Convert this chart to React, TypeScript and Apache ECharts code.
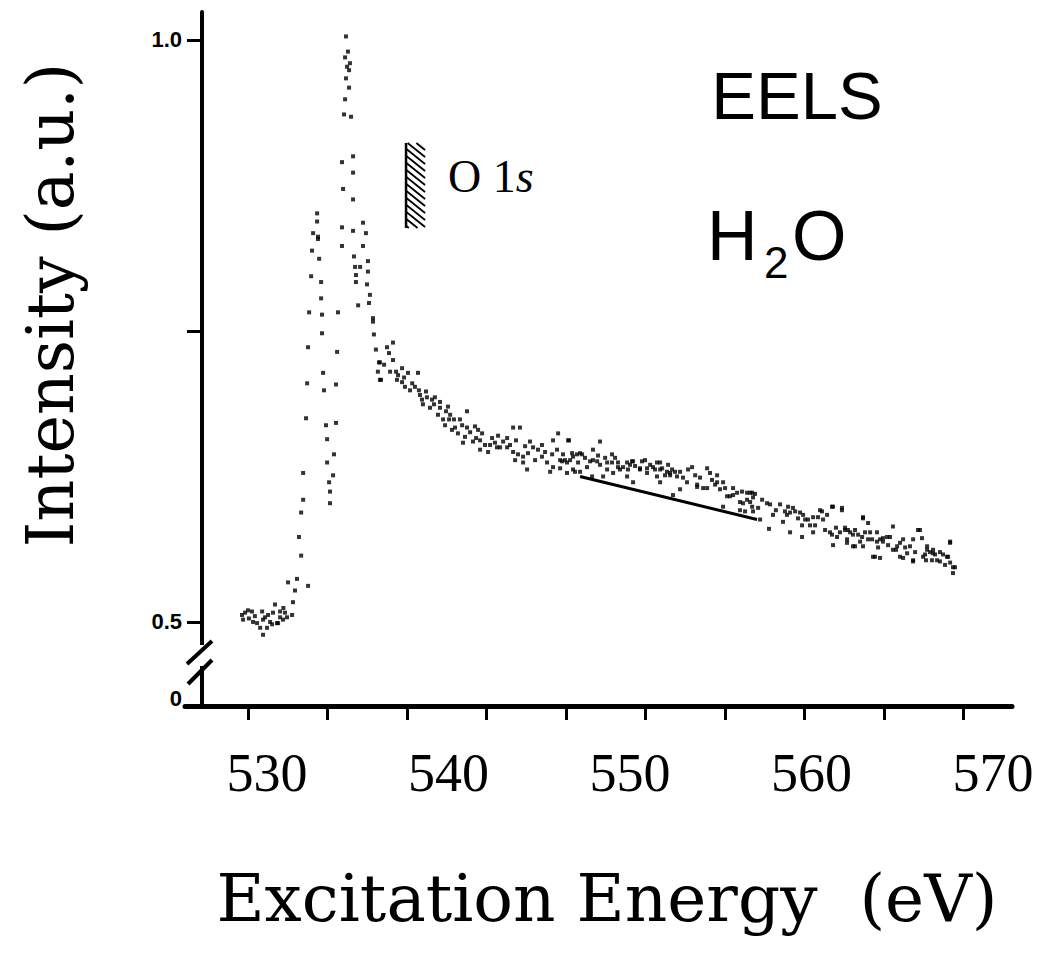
import React, { useEffect, useRef } from "react";
import * as echarts from "echarts";

// ---- data: [excitation energy (eV), intensity (a.u., broken axis)] ----
const preEdge: number[][] = [
  [528.62,0.506],[528.79,0.508],[528.68,0.502],[528.95,0.510],[529.17,0.509],[529.23,0.500],
  [529.45,0.499],[529.73,0.509],[529.78,0.502],[529.89,0.504],[530.06,0.506],[530.17,0.500],
  [530.33,0.508],[530.44,0.515],[530.55,0.499],[530.72,0.504],[530.72,0.509],[530.88,0.502],
  [530.99,0.508],[531.10,0.504],[531.38,0.506],[531.43,0.517],[529.78,0.489],[529.62,0.495],
  [530.00,0.495],[530.28,0.498],[530.61,0.499],[529.00,0.503],[529.33,0.505],[530.90,0.512]
];
const firstPeak: number[][] = [
  [531.54,0.527],[531.16,0.534],[531.65,0.537],[532.26,0.531],[531.88,0.557],[531.76,0.573],
  [531.88,0.594],[531.99,0.605],[531.99,0.628],[532.15,0.675],[532.21,0.705],[532.26,0.736],
  [532.32,0.766],[532.43,0.797],[532.48,0.819],[532.54,0.834],[532.76,0.851],[532.76,0.844],
  [532.81,0.831],[532.81,0.829],[532.87,0.812],[532.98,0.792],[532.98,0.778],[533.03,0.764],
  [533.03,0.748],[533.09,0.714],[533.14,0.699],[533.25,0.669],[533.31,0.657],[533.31,0.637],
  [533.42,0.620],[533.47,0.612],[533.47,0.602]
];
const mainPeak: number[][] = [
  [533.64,0.626],[533.69,0.644],[533.80,0.671],[533.80,0.704],[533.86,0.732],[533.91,0.766],
  [534.13,0.823],[534.13,0.839],[534.19,0.872],[534.13,0.895],[534.24,0.936],[534.30,0.949],
  [534.35,0.967],[534.30,0.985],[534.35,1.003],[534.46,0.990],[534.57,0.980],[534.41,0.977],
  [534.52,0.974],[534.52,0.959],[534.63,0.934],[534.74,0.900],[534.74,0.886],[534.74,0.863],
  [534.74,0.836],[534.79,0.814],[534.85,0.805],[534.90,0.798],[534.90,0.792],[535.02,0.772]
];
const shoulder: number[][] = [
  [535.13,0.805],[535.29,0.843],[535.29,0.823],[535.45,0.834],[535.56,0.810],[535.56,0.801],
  [535.51,0.790],[535.62,0.774],[535.67,0.781],[535.84,0.761],[535.84,0.758],[535.89,0.747],
  [536.00,0.734],[536.11,0.715],[536.17,0.723],[536.22,0.708]
];
const tailNear: number[][] = [
  [536.61,0.736],[536.94,0.740],[536.72,0.731],[536.22,0.723],[536.28,0.708],[536.94,0.725],
  [537.11,0.715],[537.44,0.718],[537.77,0.714],[538.32,0.714],[537.16,0.708],[537.44,0.706],
  [537.60,0.702],[537.88,0.699],[538.15,0.702],[538.37,0.699],[538.54,0.691],[538.81,0.693],
  [539.09,0.691],[539.25,0.693],[538.59,0.687],[538.98,0.684],[539.53,0.684],[539.97,0.685],
  [539.42,0.678],[539.70,0.674],[540.03,0.674],[540.30,0.674],[540.63,0.674],[541.02,0.681],
  [540.19,0.665],[540.52,0.662],[540.91,0.659],[541.02,0.667],[541.46,0.668],[541.63,0.665],
  [540.80,0.654],[541.35,0.655],[541.74,0.656],[542.01,0.652],[542.29,0.652],[542.56,0.654],
  [542.84,0.650],[543.23,0.658],[543.56,0.667],[543.94,0.667],[541.74,0.648],[542.18,0.646],
  [542.67,0.650],[543.23,0.650],[543.56,0.646],[543.83,0.644],[544.11,0.642],[544.38,0.645],
  [544.66,0.650],[545.15,0.652],[543.67,0.639],[544.11,0.637],[544.33,0.631],[544.77,0.639],
  [545.15,0.642],[545.43,0.637],[545.76,0.633],[546.15,0.639],[546.53,0.637],[546.86,0.642],
  [547.14,0.637],[545.76,0.656],[546.04,0.662],[546.64,0.656],[545.60,0.629],[546.15,0.632],
  [546.53,0.628],[546.97,0.629]
];
const tailMid: number[][] = [
  [546.59,0.656],[548.35,0.655],[546.42,0.639],[546.81,0.645],[547.25,0.645],[547.63,0.633],
  [547.96,0.639],[548.35,0.635],[548.74,0.631],[549.01,0.644],[549.01,0.637],[549.34,0.637],
  [549.62,0.633],[550.00,0.635],[550.17,0.638],[550.55,0.632],[550.83,0.639],[550.94,0.628],
  [551.27,0.633],[551.66,0.637],[552.04,0.629],[552.21,0.626],[552.48,0.629],[552.92,0.624],
  [553.42,0.633],[554.25,0.632],[554.41,0.628],[547.91,0.625],[548.52,0.625],[549.07,0.628],
  [549.84,0.625],[550.17,0.620],[551.49,0.625],[551.66,0.620],[553.14,0.620],[553.70,0.616],
  [554.03,0.615],[554.80,0.620],[554.96,0.614],[555.51,0.608],[555.90,0.611],[556.45,0.605],
  [556.78,0.607],[556.73,0.599],[556.06,0.596],[552.37,0.609],[552.76,0.614],[555.13,0.599],
  [546.26,0.638],[547.36,0.644],[547.96,0.648],[546.86,0.631],[547.25,0.629],[548.19,0.638],
  [548.74,0.637],[549.34,0.633],[549.84,0.637],[550.11,0.638],[550.55,0.631],[550.94,0.632],
  [551.49,0.637],[551.66,0.631],[551.93,0.626],[552.21,0.628],[552.59,0.625],[553.70,0.618],
  [554.25,0.615],[554.80,0.626],[555.13,0.620],[555.35,0.608],[555.68,0.609],[556.06,0.603],
  [556.62,0.611]
];
const tailFar: number[][] = [
  [556.45,0.611],[556.73,0.611],[556.23,0.602],[556.62,0.603],[556.34,0.595],[556.78,0.595],
  [557.06,0.598],[557.17,0.588],[557.72,0.601],[557.88,0.592],[558.27,0.601],[558.71,0.599],
  [558.43,0.586],[558.82,0.594],[559.10,0.595],[559.54,0.592],[559.48,0.583],[559.92,0.583],
  [560.58,0.595],[560.36,0.590],[561.13,0.599],[561.68,0.598],[560.75,0.579],[561.13,0.575],
  [561.57,0.577],[561.85,0.581],[562.13,0.577],[562.40,0.579],[562.84,0.590],[562.95,0.577],
  [563.61,0.577],[563.12,0.585],[564.49,0.582],[563.94,0.572],[564.33,0.573],[563.61,0.569],
  [561.19,0.566],[561.96,0.571],[562.40,0.565],[562.84,0.565],[563.34,0.571],[563.94,0.569],
  [564.72,0.565],[565.05,0.571],[565.60,0.571],[565.98,0.579],[566.09,0.572],[566.37,0.565],
  [566.70,0.562],[567.08,0.560],[567.64,0.569],[567.53,0.556],[567.80,0.547],[567.80,0.542],
  [563.39,0.556],[563.78,0.555],[565.05,0.555],[565.60,0.553],[566.26,0.558],[566.64,0.553],
  [567.08,0.552],[558.82,0.577],[557.66,0.580],[557.55,0.602],[558.65,0.592],[558.98,0.598],
  [559.37,0.594],[559.65,0.588],[560.09,0.590],[560.47,0.596],[560.86,0.592],[561.19,0.599],
  [561.68,0.596],[559.48,0.573],[560.09,0.577],[561.02,0.577],[561.41,0.573],[561.85,0.579],
  [562.29,0.575],[562.79,0.573],[562.84,0.589],[563.23,0.577],[563.78,0.571],[564.16,0.573],
  [564.88,0.568],[565.43,0.565],[565.87,0.579],[566.37,0.562],[566.70,0.559],[567.47,0.556],
  [567.64,0.568],[567.91,0.547],[561.96,0.568],[562.29,0.565],[562.68,0.569],[563.50,0.556],
  [564.49,0.562],[564.88,0.556],[565.27,0.559],[565.60,0.552],[566.15,0.556],[566.53,0.560],
  [566.92,0.553],[567.25,0.558],[567.64,0.551]
];
const tailExtra: number[][] = [
  [536.45,0.721],[536.78,0.715],[537.22,0.712],[537.55,0.710],[538.00,0.705],[538.43,0.695],
  [538.76,0.698],[539.20,0.687],[539.53,0.689],[539.86,0.681],
  [539.81,0.669],[540.09,0.678],[540.36,0.667],[540.75,0.669],[541.19,0.663],[541.52,0.658],
  [541.85,0.662],[542.40,0.658],[542.73,0.660],[543.01,0.655],[543.39,0.652],[543.72,0.656],
  [544.22,0.651],[544.49,0.655],[544.93,0.648],[545.32,0.646],[545.71,0.644],[545.98,0.648],
  [546.31,0.644],[546.70,0.639],[547.08,0.644],[547.52,0.641],[547.80,0.638],[548.24,0.643],
  [548.63,0.641],[549.18,0.641],[549.45,0.631],[549.89,0.631],[550.28,0.634],[550.66,0.638],
  [551.11,0.635],[551.38,0.631],[551.77,0.632],[552.10,0.635],[552.32,0.631],[552.76,0.629],
  [553.20,0.631],[553.59,0.626],[553.86,0.624],[554.52,0.622],[554.69,0.618],[555.24,0.615],
  [555.68,0.615],[556.17,0.612],[556.89,0.610],[557.28,0.605],[558.04,0.596],[558.54,0.595],
  [559.26,0.589],[559.81,0.588],[560.20,0.583],[560.64,0.588],[561.35,0.581],[562.01,0.579],
  [562.57,0.575],[563.12,0.571],[563.67,0.564],[564.22,0.566],[564.66,0.562],[565.16,0.564],
  [565.71,0.560],[566.31,0.553],[566.81,0.558],[567.36,0.549]
];
// straight background segment
const backgroundLine: number[][] = [[547.25, 0.625], [557.0, 0.588]];
// hatched marker for the O 1s ionisation threshold: [xStart, xEnd, yTop, yBottom]
const hatchBand: number[][] = [[537.66, 538.71, 0.9115, 0.8385]];

const xLabelValues = [530, 540, 550, 560, 570];
const xTickValues = [528.95, 533.33, 537.71, 542.09, 546.47, 550.85, 555.23, 559.61, 563.99, 568.37];
const yTickValues = [0.5, 0.75, 1.0];
const yLabelValues = [0.434, 0.5, 1.0];
const yLabelTexts = ["0", "0.5", "1.0"];

const X_MIN = 525.48;
const X_MAX = 571.05;
const Y_MIN = 0.4278;
const Y_MAX = 1.024;

export default function App() {
  const ref = useRef<HTMLDivElement>(null);
  useEffect(() => {
    if (!ref.current) return;
    const chart = echarts.init(ref.current, undefined, { renderer: "svg" });
    const points = [...preEdge, ...firstPeak, ...mainPeak, ...shoulder, ...tailNear, ...tailMid, ...tailFar, ...tailExtra];
    chart.setOption({
      animation: false,
      backgroundColor: "#ffffff",
      grid: { left: 177, right: 36, top: 4, bottom: 248 },
      xAxis: {
        type: "value",
        min: X_MIN,
        max: X_MAX,
        splitLine: { show: false },
        axisLine: { show: true, lineStyle: { color: "#000", width: 5 } },
        axisTick: {
          show: true,
          customValues: xTickValues,
          length: 14,
          lineStyle: { color: "#000", width: 3 },
        },
        axisLabel: {
          customValues: xLabelValues,
          formatter: (v: number) => String(Math.round(v)),
          color: "#000",
          fontFamily: "Liberation Serif",
          fontSize: 54,
          margin: 40,
        },
      },
      yAxis: {
        type: "value",
        min: Y_MIN,
        max: Y_MAX,
        offset: -17,
        splitLine: { show: false },
        axisLine: { show: true, lineStyle: { color: "#000", width: 4 } },
        axisTick: {
          show: true,
          customValues: yTickValues,
          length: 15,
          lineStyle: { color: "#000", width: 3 },
        },
        axisLabel: {
          customValues: yLabelValues,
          formatter: (v: number) => {
            const i = yLabelValues.findIndex((u) => Math.abs(u - v) < 1e-6);
            return i >= 0 ? yLabelTexts[i] : "";
          },
          color: "#000",
          fontFamily: "Liberation Sans",
          fontWeight: "bold",
          fontSize: 22,
          margin: 20,
        },
      },
      series: [
        {
          type: "scatter",
          data: points,
          symbol: "rect",
          symbolSize: 4,
          itemStyle: { color: "#000" },
          silent: true,
        },
        {
          type: "line",
          data: backgroundLine,
          showSymbol: false,
          symbol: "none",
          lineStyle: { color: "#000", width: 3 },
          silent: true,
        },
        {
          type: "custom",
          data: hatchBand,
          encode: { x: [0, 1], y: [2, 3] },
          silent: true,
          renderItem: (params: any, api: any) => {
            const p0 = api.coord([api.value(0), api.value(2)]);
            const p1 = api.coord([api.value(1), api.value(3)]);
            const x0 = p0[0], y0 = p0[1], x1 = p1[0], y1 = p1[1];
            const w = x1 - x0;
            const k = 0.8;
            const s = 7;
            const children: any[] = [
              { type: "line", shape: { x1: x0, y1: y0, x2: x0, y2: y1 }, style: { stroke: "#000", lineWidth: 2.5 } },
            ];
            for (let c = y0 - w * k; c < y1; c += s) {
              let sx = x0, sy = c;
              if (sy < y0) { sx = x0 + (y0 - c) / k; sy = y0; }
              let ex = x1, ey = c + w * k;
              if (ey > y1) { ex = x0 + (y1 - c) / k; ey = y1; }
              if (ex > sx) {
                children.push({ type: "line", shape: { x1: sx, y1: sy, x2: ex, y2: ey }, style: { stroke: "#000", lineWidth: 1.8 } });
              }
            }
            return { type: "group", children };
          },
        },
      ],
      graphic: [
        // axis break on the y axis
        { type: "rect", z: 100, shape: { x: 186, y: 637, width: 16, height: 21 }, style: { fill: "#fff" } },
        { type: "line", z: 101, shape: { x1: 179, y1: 656, x2: 204, y2: 633 }, style: { stroke: "#000", lineWidth: 4 } },
        { type: "line", z: 101, shape: { x1: 180, y1: 676, x2: 204, y2: 652 }, style: { stroke: "#000", lineWidth: 4 } },
        {
          type: "text", z: 100, x: 42, y: 297, rotation: Math.PI / 2,
          style: { text: "Intensity (a.u.)", fill: "#000", font: "65px 'DejaVu Serif'", align: "center", verticalAlign: "middle" },
        },
        {
          type: "text", z: 100, x: 599, y: 890,
          style: { text: "Excitation Energy\u00A0 (eV)", fill: "#000", font: "66px 'DejaVu Serif'", align: "center", verticalAlign: "middle" },
        },
        {
          type: "text", z: 100, x: 789, y: 87,
          style: { text: "EELS", fill: "#000", font: "67px 'Liberation Sans'", align: "center", verticalAlign: "middle" },
        },
        {
          type: "text", z: 100, x: 699, y: 228,
          style: { text: "H", fill: "#000", font: "70px 'Liberation Sans'", align: "left", verticalAlign: "middle" },
        },
        {
          type: "text", z: 100, x: 756, y: 254,
          style: { text: "2", fill: "#000", font: "44px 'Liberation Sans'", align: "left", verticalAlign: "middle" },
        },
        {
          type: "text", z: 100, x: 784, y: 228,
          style: { text: "O", fill: "#000", font: "70px 'Liberation Sans'", align: "left", verticalAlign: "middle" },
        },
        {
          type: "text", z: 100, x: 440, y: 168,
          style: {
            text: "{r|O 1}{i|s}",
            fill: "#000",
            align: "left",
            verticalAlign: "middle",
            rich: {
              r: { fontFamily: "Liberation Serif", fontSize: 46, fill: "#000" },
              i: { fontFamily: "Liberation Serif", fontSize: 46, fontStyle: "italic", fill: "#000" },
            },
          },
        },
      ],
    });
    return () => chart.dispose();
  }, []);
  return <div ref={ref} style={{ width: 1040, height: 946 }} />;
}
